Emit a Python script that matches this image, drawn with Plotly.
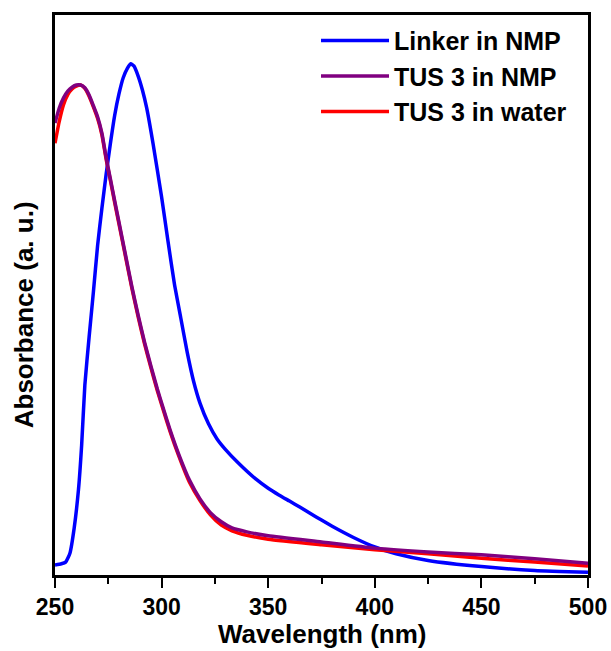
import plotly.graph_objects as go

# Wavelength (nm) and absorbance (a. u., normalised)
linker_wl = [250, 253, 255, 257, 259, 261, 262.5, 264, 266, 268, 270, 272, 274, 276, 278, 280,
             282, 284, 285.5, 287, 289, 291, 293, 296, 300, 303, 306, 309, 312, 315, 318, 322,
             326, 330, 336, 344, 350, 355, 360, 365, 370, 375, 380, 390, 400, 410, 425, 450, 475, 500]
linker_abs = [0.018, 0.020, 0.023, 0.039, 0.084, 0.152, 0.232, 0.339, 0.425, 0.505, 0.589, 0.655,
              0.716, 0.771, 0.821, 0.859, 0.888, 0.905, 0.913, 0.909, 0.891, 0.866, 0.834, 0.770,
              0.675, 0.596, 0.520, 0.459, 0.398, 0.346, 0.307, 0.270, 0.243, 0.224, 0.200, 0.172,
              0.155, 0.143, 0.132, 0.121, 0.1095, 0.098, 0.087, 0.067, 0.050, 0.038, 0.026, 0.015,
              0.008, 0.005]

tus_wl = [250, 252, 254, 256, 258, 260, 262, 264, 266, 268, 270, 272, 274, 276, 278, 280, 283,
          286, 289, 292, 295, 298, 301, 304, 308, 313, 318, 323, 328, 333, 340, 350, 375, 400,
          425, 450, 475, 500]
tus_nmp_abs = [0.807, 0.834, 0.852, 0.864, 0.871, 0.875, 0.875, 0.870, 0.857, 0.838, 0.818, 0.789,
               0.745, 0.707, 0.668, 0.630, 0.573, 0.516, 0.464, 0.416, 0.373, 0.332, 0.295, 0.259,
               0.216, 0.170, 0.136, 0.111, 0.095, 0.084, 0.077, 0.070, 0.059, 0.048, 0.041, 0.036,
               0.029, 0.021]
tus_water_abs = [0.771, 0.810, 0.840, 0.858, 0.868, 0.873, 0.875, 0.869, 0.855, 0.836, 0.815, 0.786,
                 0.742, 0.704, 0.665, 0.627, 0.570, 0.513, 0.461, 0.413, 0.370, 0.329, 0.292, 0.256,
                 0.213, 0.166, 0.133, 0.107, 0.089, 0.079, 0.071, 0.064, 0.054, 0.045, 0.038, 0.030,
                 0.023, 0.016]

x_ticks = [250, 300, 350, 400, 450, 500]

FONT = "Arial, 'Liberation Sans', sans-serif"

fig = go.Figure()
fig.add_trace(go.Scatter(x=linker_wl, y=linker_abs, mode="lines", name="Linker in NMP",
                         line=dict(color="#0000FF", width=3.5, shape="spline", smoothing=0.5),
                         legendrank=1))
fig.add_trace(go.Scatter(x=tus_wl, y=tus_water_abs, mode="lines", name="TUS 3 in water",
                         line=dict(color="#FF0000", width=3.5, shape="spline", smoothing=0.5),
                         legendrank=3))
fig.add_trace(go.Scatter(x=tus_wl, y=tus_nmp_abs, mode="lines", name="TUS 3 in NMP",
                         line=dict(color="#800080", width=3.5, shape="spline", smoothing=0.5),
                         legendrank=2))

fig.update_layout(
    width=611, height=651,
    margin=dict(l=55, r=23, t=15, b=76),
    paper_bgcolor="white", plot_bgcolor="white",
    font=dict(family=FONT, color="black"),
    showlegend=True,
    legend=dict(x=0.97, y=0.995, xanchor="right", yanchor="top",
                bgcolor="rgba(0,0,0,0)", borderwidth=0,
                font=dict(family=FONT, size=25, color="black", weight="bold"),
                itemwidth=68, tracegroupgap=0),
    xaxis=dict(range=[250, 500], tickvals=x_ticks, ticktext=[str(t) for t in x_ticks],
               automargin=False,
               showgrid=False, zeroline=False, showline=True, linecolor="black", linewidth=2.5,
               mirror=True, ticks="outside", ticklen=10, tickwidth=2, tickcolor="black",
               minor=dict(dtick=25, tick0=250, ticks="outside", ticklen=6, tickwidth=2,
                          tickcolor="black", showgrid=False),
               tickfont=dict(family=FONT, size=23, color="black", weight="bold")),
    yaxis=dict(range=[0, 1], showgrid=False, zeroline=False, showline=True, linecolor="black",
               linewidth=2.5, mirror=True, ticks="", showticklabels=False, automargin=False),
    annotations=[
        dict(text="<b>Wavelength (nm)</b>", xref="paper", yref="paper", x=0.5, y=-0.105,
             xanchor="center", yanchor="middle", showarrow=False,
             font=dict(family=FONT, size=26, color="black")),
        dict(text="<b>Absorbance (a. u.)</b>", xref="paper", yref="paper", x=-0.058, y=0.464,
             xanchor="center", yanchor="middle", textangle=-90, showarrow=False,
             font=dict(family=FONT, size=26, color="black")),
    ],
)

fig.write_html("out.html")
